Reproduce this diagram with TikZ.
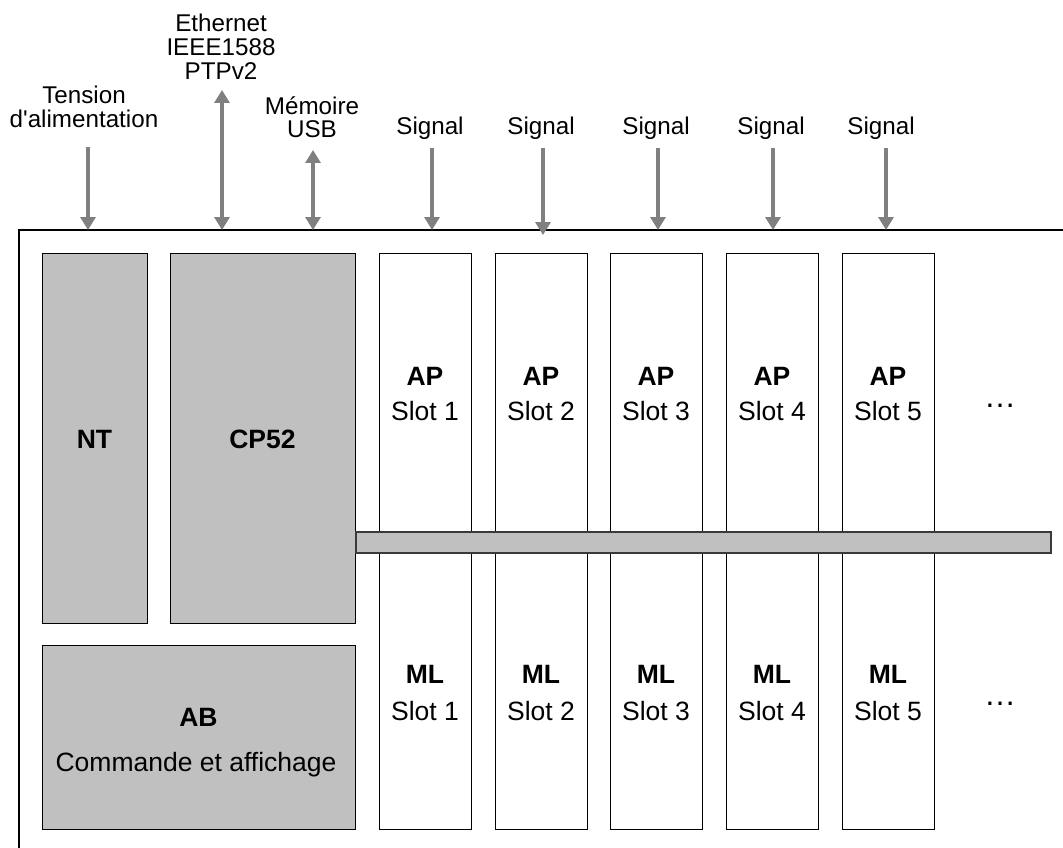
\documentclass[tikz,border=0pt]{standalone}
\usepackage{fontspec}
\setmainfont{Liberation Sans}[Ligatures=TeXOff]
\usetikzlibrary{arrows.meta}
\definecolor{boxgray}{HTML}{C0C0C0}
\definecolor{arrowgray}{HTML}{808080}
\definecolor{busedge}{HTML}{3A3A3A}
\begin{document}
\begin{tikzpicture}[x=1pt,y=-1pt,
  frame/.style={draw=black,line width=1.4pt},
  graybox/.style={draw=black,fill=boxgray,line width=1.4pt,inner sep=0pt,anchor=north west},
  slotbox/.style={draw=black,fill=white,line width=1.4pt,inner sep=0pt,anchor=north west,minimum width=92pt,minimum height=576pt},
  busbar/.style={draw=busedge,fill=boxgray,line width=1.8pt,inner sep=0pt,anchor=north west,minimum width=695pt,minimum height=21pt},
  toplabel/.style={font=\fontsize{24.2}{24}\selectfont,anchor=base,inner sep=0pt},
  boxlabel/.style={font=\fontsize{26.5}{30}\selectfont,anchor=base,inner sep=0pt},
  boldlabel/.style={font=\fontsize{26.5}{30}\selectfont\bfseries,anchor=base,inner sep=0pt},
  dotslabel/.style={font=\fontsize{32}{34}\selectfont,anchor=base,inner sep=0pt},
  sig/.style={draw=arrowgray,line width=4.5pt,-{Triangle[width=15pt,length=13pt]}},
  bisig/.style={draw=arrowgray,line width=4.5pt,{Triangle[width=15pt,length=13pt]}-{Triangle[width=15pt,length=13pt]}},
]
\useasboundingbox (0,0) rectangle (1063,848);

% outer frame (open on the right and bottom)
\coordinate (frTR) at (1063,230);
\coordinate (frTL) at (19,230);
\coordinate (frBL) at (19,848);
\draw[frame] (frTR) -- (frTL) -- (frBL);

% gray modules
\node[graybox,minimum width=105pt,minimum height=370pt] (nt) at (42,253) {};
\node[graybox,minimum width=185pt,minimum height=370pt] (cp) at (170,253) {};
\node[graybox,minimum width=313pt,minimum height=184pt] (ab) at (42,645) {};

% slots
\node[slotbox] (s1) at (379,253) {};
\node[slotbox] (s2) at (495,253) {};
\node[slotbox] (s3) at (610,253) {};
\node[slotbox] (s4) at (726,253) {};
\node[slotbox] (s5) at (842,253) {};

% bus
\node[busbar] (bus) at (355,531) {};

% module labels
\node[boldlabel] (ntl) at (94.5,448) {NT};
\node[boldlabel] (cpl) at (262.5,448) {CP52};
\node[boldlabel] (abl) at (198.5,726) {AB};
\node[boxlabel] (abt) at (196,771) {Commande et affichage};

\foreach \i/\x in {1/425,2/541,3/656,4/772,5/888}{
  \node[boldlabel] (ap\i) at (\x,385) {AP};
  \node[boxlabel] (aps\i) at (\x,420) {Slot \i};
  \node[boldlabel] (ml\i) at (\x,683) {ML};
  \node[boxlabel] (mls\i) at (\x,720) {Slot \i};
}
\node[dotslabel] (dotsA) at (1000,407) {…};
\node[dotslabel] (dotsB) at (1000,705) {…};

% top labels
\node[toplabel] (t1) at (84,104) {Tension};
\node[toplabel] (t2) at (84,128) {d'alimentation};
\node[toplabel] (e1) at (221,32) {Ethernet};
\node[toplabel] (e2) at (221,56) {IEEE1588};
\node[toplabel] (e3) at (221,80) {PTPv2};
\node[toplabel] (m1) at (312,115) {Mémoire};
\node[toplabel] (m2) at (312,138) {USB};
\foreach \i/\x in {1/430,2/541,3/656,4/771,5/881}{
  \node[toplabel] (sl\i) at (\x,135) {Signal};
}

% arrows
\coordinate (tA) at (88,147);   \coordinate (tB) at (88,230);
\coordinate (eA) at (222,90);   \coordinate (eB) at (222,230);
\coordinate (uA) at (313,150);  \coordinate (uB) at (313,230);
\draw[sig] (tA) -- (tB);
\draw[bisig] (eA) -- (eB);
\draw[bisig] (uA) -- (uB);
\foreach \i/\x/\y in {1/432/230,2/543/235,3/658/230,4/773/230,5/886/230}{
  \coordinate (sA\i) at (\x,148);
  \coordinate (sB\i) at (\x,\y);
  \draw[sig] (sA\i) -- (sB\i);
}
\end{tikzpicture}
\end{document}
